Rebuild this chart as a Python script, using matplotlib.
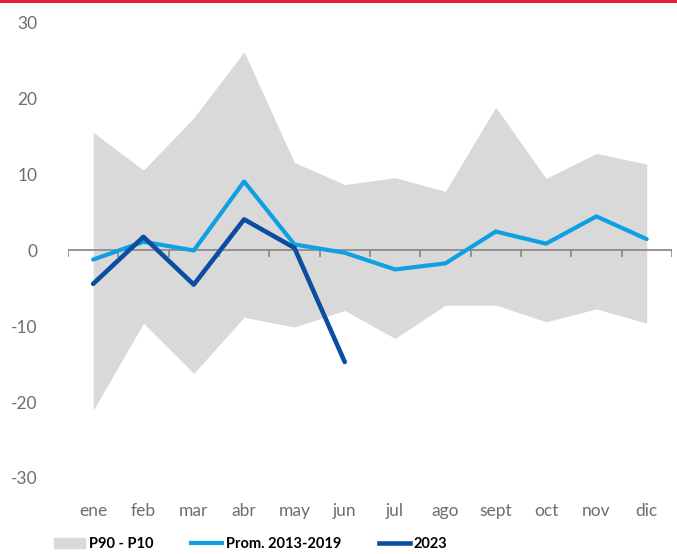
import matplotlib.pyplot as plt
from matplotlib.patches import Rectangle
from matplotlib.lines import Line2D

months = ["ene", "feb", "mar", "abr", "may", "jun", "jul", "ago", "sept", "oct", "nov", "dic"]
p90 = [15.6, 10.6, 17.5, 26.2, 11.6, 8.7, 9.6, 7.8, 18.9, 9.5, 12.8, 11.4]
p10 = [-21.1, -9.6, -16.2, -8.8, -10.1, -7.9, -11.6, -7.2, -7.2, -9.4, -7.7, -9.6]
prom = [-1.2, 1.15, 0.0, 9.1, 0.8, -0.3, -2.5, -1.7, 2.5, 0.9, 4.5, 1.5]
y2023 = [-4.4, 1.8, -4.5, 4.1, 0.35, -14.7]

plt.rcParams['font.family'] = ['Lato', 'DejaVu Sans']
plt.rcParams['axes.unicode_minus'] = False

fig = plt.figure(figsize=(6.77, 5.54), dpi=100)
ax = fig.add_axes([0.1004, 0.1372, 0.892, 0.8213])

x = list(range(len(months)))
ax.fill_between(x, p10, p90, color="#d9d9d9", linewidth=0, zorder=1)

# zero line with small ticks between months
ax.axhline(0, color="#8c8c8c", linewidth=1.3, zorder=2)
bounds = [i - 0.5 for i in range(len(months) + 1)]
ax.vlines(bounds, -0.8, 0, color="#8c8c8c", linewidth=1.3, zorder=2)

ax.plot(x, prom, color="#0ea0e2", linewidth=3, solid_capstyle="round", zorder=3)
ax.plot(x[:len(y2023)], y2023, color="#0b4d9f", linewidth=3.3, solid_capstyle="round", zorder=4)

ax.set_xlim(-0.5, 11.5)
ax.set_ylim(-30, 30)
ax.set_yticks([-30, -20, -10, 0, 10, 20, 30])
ax.set_xticks(x)
ax.set_xticklabels(months)
ax.tick_params(axis="both", length=0, labelsize=12.5, labelcolor="#6e6e6e")
ax.tick_params(axis="y", pad=22)
ax.tick_params(axis="x", pad=18)
for s in ax.spines.values():
    s.set_visible(False)

# red bar at the top
fig.add_artist(Rectangle((0, 1 - 3 / 554), 1, 3 / 554, transform=fig.transFigure,
                         color="#e51f2e", linewidth=0))

handles = [Rectangle((0, 0), 1, 1, color="#d9d9d9"),
           Line2D([0], [0], color="#0ea0e2", linewidth=3),
           Line2D([0], [0], color="#0b4d9f", linewidth=3.3)]
labels = ["P90 - P10", "Prom. 2013-2019", "2023"]
fig.legend(handles, labels, loc="center", bbox_to_anchor=(251 / 677, 1 - 544 / 554),
           ncol=3, frameon=False, handlelength=2.1, handletextpad=0.27,
           columnspacing=2.6, prop={"weight": "bold", "size": 10.5})

fig.savefig("out.png", dpi=100)
